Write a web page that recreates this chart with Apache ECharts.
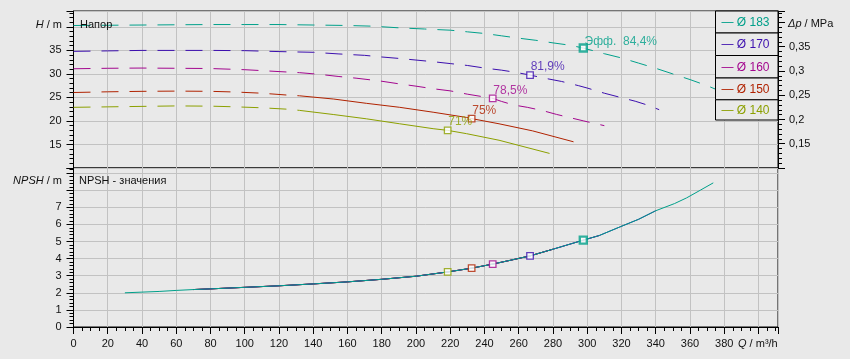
<!DOCTYPE html>
<html>
<head>
<meta charset="utf-8">
<script src="https://cdn.jsdelivr.net/npm/echarts@6/dist/echarts.min.js"></script>
<style>html,body{margin:0;padding:0;background:#e9e9e9;}#c{width:850px;height:359px;}</style>
</head>
<body>
<div id="c"></div>
<script>
// ---- data ----
const diameters = ['183', '170', '160', '150', '140'];
const colors = ['#00a08a', '#3c0fae', '#a3078e', '#b02200', '#8ca000'];

// head curves (Q m3/h, H m)
const q183 = [0, 20, 40, 60, 80, 100, 120, 140, 160, 175, 190, 205, 220, 230, 240, 250, 260, 270, 280, 290, 297.7, 310, 320, 330, 340, 350, 360, 370, 378];
const h183 = [40.3, 40.35, 40.4, 40.45, 40.5, 40.5, 40.5, 40.4, 40.3, 40.15, 39.8, 39.55, 39.3, 38.95, 38.6, 38.1, 37.6, 37.15, 36.6, 36.1, 35.5, 34.3, 33.4, 32.3, 31.2, 30.0, 28.8, 27.5, 26.3];
const q170 = [0, 20, 40, 60, 80, 100, 120, 140, 155, 170, 180, 190, 200, 210, 220, 230, 240, 250, 258, 266.6, 275, 285, 295, 300, 310, 320, 328, 335, 342];
const h170 = [34.8, 34.9, 35.0, 35.0, 35.0, 34.95, 34.75, 34.6, 34.25, 33.95, 33.6, 33.3, 32.95, 32.6, 32.2, 31.8, 31.25, 30.8, 30.35, 29.76, 29.1, 28.4, 27.5, 27.0, 25.9, 24.95, 24.2, 23.4, 22.4];
const q160 = [0, 20, 40, 60, 80, 100, 120, 132, 144, 155, 165, 179, 190, 200, 210, 220, 230, 240, 244.8, 250, 257, 265, 274, 282, 290, 298, 310];
const h160 = [31.1, 31.2, 31.25, 31.2, 31.15, 30.9, 30.5, 30.27, 29.9, 29.45, 29.1, 28.5, 27.9, 27.4, 26.85, 26.4, 25.7, 25.1, 24.8, 24.15, 23.4, 22.9, 22.2, 21.4, 20.7, 20.0, 19.0];
const q150 = [0, 20, 40, 60, 80, 95, 110, 125, 132, 152, 171, 190.5, 210, 229.5, 232.5, 248.5, 268, 292];
const h150 = [26.05, 26.2, 26.3, 26.35, 26.3, 26.15, 25.9, 25.5, 25.35, 24.66, 23.75, 22.9, 21.86, 20.75, 20.5, 19.4, 17.9, 15.57];
const q140 = [0, 20, 40, 60, 80, 95, 110, 125, 132, 152, 171, 190.5, 210, 218.5, 229.5, 248.5, 278];
const h140 = [22.9, 23.0, 23.1, 23.2, 23.15, 23.0, 22.8, 22.5, 22.25, 21.36, 20.46, 19.4, 18.36, 18.0, 17.3, 15.9, 13.1];
const headQ = [q183, q170, q160, q150, q140];
const headH = [h183, h170, h160, h150, h140];
const dashUntil = [1000, 1000, 1000, 132, 132];

// NPSH curve (shared by all impellers)
const npshQ = [30, 40, 50, 60, 70, 80, 100, 120, 140, 160, 180, 200, 218.5, 232.5, 244.8, 255, 266.6, 280, 297.7, 307, 319, 330, 340, 351, 358, 366, 373.6];
const npshV = [2.0, 2.04, 2.08, 2.14, 2.19, 2.23, 2.32, 2.41, 2.52, 2.64, 2.79, 2.97, 3.22, 3.44, 3.68, 3.9, 4.16, 4.55, 5.08, 5.35, 5.85, 6.3, 6.8, 7.22, 7.55, 8.0, 8.43];
const npshRange = [[30, 374], [70, 342], [70, 310], [70, 292], [70, 280]];

// best efficiency points
const effQ = [297.7, 266.6, 244.8, 232.5, 218.5];
const effH = [35.5, 29.76, 24.8, 20.5, 18.0];
const effNPSH = [5.08, 4.16, 3.68, 3.44, 3.22];
const effLabel = ['Эфф.  84,4%', '81,9%', '78,5%', '75%', '71%'];

// ---- chart ----
const FONT = "'Liberation Sans', Arial, sans-serif";
const FS = 11;
const chart = echarts.init(document.getElementById('c'), null, {renderer: 'canvas'});
const GL = 73.5, GR = 72, T0 = 11, B0 = 168, B1 = 327;
const gridColor = '#c2c2c2';

const series = [];
const order = [4, 3, 2, 1, 0];
order.forEach(i => {
  const pts = headQ[i].map((q, k) => [q, headH[i][k]]);
  const dashed = pts.filter(p => p[0] <= dashUntil[i]);
  const solid = pts.filter(p => p[0] >= dashUntil[i]);
  series.push({type: 'line', xAxisIndex: 0, yAxisIndex: 0, data: dashed, showSymbol: false, symbol: 'none',
    lineStyle: {color: colors[i], width: 1, type: [17, 11]}, silent: true, z: 3});
  if (solid.length > 1) series.push({type: 'line', xAxisIndex: 0, yAxisIndex: 0, data: solid, symbol: 'none',
    lineStyle: {color: colors[i], width: 1}, silent: true, z: 3});
  const np = npshQ.map((q, k) => [q, npshV[k]]).filter(p => p[0] >= npshRange[i][0] && p[0] <= npshRange[i][1]);
  series.push({type: 'line', xAxisIndex: 1, yAxisIndex: 2, data: np, symbol: 'none',
    lineStyle: {color: colors[i], width: 1}, silent: true, z: 3});
});
order.forEach(i => {
  const big = i === 0;
  const lbl = {show: true, formatter: effLabel[i], color: colors[i], fontFamily: FONT, fontSize: FS + 1,
    position: big ? [6, -1.5] : [4.5, [-4.5, -4.5, -3.5, -4.5, -4.5][i]], align: 'left', verticalAlign: 'middle'};
  const mk = {symbol: 'rect', symbolSize: big ? 7 : 6.5,
    itemStyle: {color: '#ffffff', borderColor: colors[i], borderWidth: big ? 2.4 : 1.3}};
  series.push(Object.assign({type: 'scatter', xAxisIndex: 0, yAxisIndex: 0, data: [[effQ[i], effH[i]]], label: lbl, z: 5, silent: true}, mk));
  series.push(Object.assign({type: 'scatter', xAxisIndex: 1, yAxisIndex: 2, data: [[effQ[i], effNPSH[i]]], z: 5, silent: true}, mk));
});

const tickStyle = {color: '#000', width: 1};
const labelStyle = {color: '#111', fontFamily: FONT, fontSize: FS};

// legend via graphics
const graphics = [];
const LX = 715.5, LW = 62.5, LT = 11, LH = [22, 22.5, 22.5, 21.8, 20.2];
let ly = LT;
diameters.forEach((d, i) => {
  graphics.push({type: 'rect', shape: {x: LX, y: ly, width: LW, height: LH[i]},
    style: {fill: '#e9e9e9', stroke: '#000', lineWidth: 1}, z: 10});
  graphics.push({type: 'text', x: LX + 6, y: ly + LH[i] / 2 + 0.5,
    style: {text: '— Ø ' + d, fill: colors[i], font: (FS + 1) + 'px ' + FONT, textVerticalAlign: 'middle'}, z: 11});
  ly += LH[i];
});
const titleTxt = (x, y, text, align) => ({type: 'text', x: x, y: y, z: 11,
  style: {text: text, font: FS + 'px ' + FONT, fill: '#111', textAlign: align, textVerticalAlign: 'middle',
    rich: {i: {fontStyle: 'italic', fontFamily: FONT, fontSize: FS, fill: '#111'}, n: {fontFamily: FONT, fontSize: FS, fill: '#111'}}}});
graphics.push(titleTxt(62, 25, '{i|H}{n| / m}', 'right'));
graphics.push(titleTxt(62, 181, '{i|NPSH}{n| / m}', 'right'));
graphics.push(titleTxt(788, 24, '{i|Δp}{n| / MPa}', 'left'));
graphics.push(titleTxt(738, 344, '{i|Q}{n| / m³/h}', 'left'));
graphics.push(titleTxt(80, 25, 'Напор', 'left'));
graphics.push(titleTxt(79, 181, 'NPSH - значения', 'left'));

const xMax = 411.4;
chart.setOption({
  animation: false,
  backgroundColor: '#e9e9e9',
  grid: [
    {left: GL, right: GR, top: T0, height: B0 - T0, show: true, borderColor: '#000', borderWidth: 1, backgroundColor: 'transparent'},
    {left: GL, right: GR, top: B0, height: B1 - B0, show: true, borderColor: '#000', borderWidth: 1, backgroundColor: 'transparent'}
  ],
  xAxis: [
    {type: 'value', gridIndex: 0, min: 0, max: xMax, interval: 20, axisLine: {show: false}, axisTick: {show: false},
      axisLabel: {show: false}, splitLine: {show: true, lineStyle: {color: gridColor, width: 1}}},
    {type: 'value', gridIndex: 1, min: 0, max: xMax, interval: 20,
      axisLine: {show: true, onZero: false, lineStyle: {color: '#000'}},
      axisTick: {show: true, length: 7, lineStyle: tickStyle},
      minorTick: {show: true, splitNumber: 4, length: 4, lineStyle: tickStyle},
      axisLabel: Object.assign({margin: 11, formatter: v => (v <= 380.5 ? String(Math.round(v)) : ''), showMaxLabel: false}, labelStyle),
      splitLine: {show: true, lineStyle: {color: gridColor, width: 1}}}
  ],
  yAxis: [
    {type: 'value', gridIndex: 0, position: 'left', min: 10, max: 43.38, interval: 5,
      axisLine: {show: true, onZero: false, lineStyle: {color: '#000'}},
      axisTick: {show: true, length: 7, lineStyle: tickStyle},
      minorTick: {show: true, splitNumber: 5, length: 4, lineStyle: tickStyle},
      axisLabel: Object.assign({margin: 12, formatter: v => (v > 12 && v < 37 ? String(Math.round(v)) : '')}, labelStyle),
      splitLine: {show: true, lineStyle: {color: gridColor, width: 1}}},
    {type: 'value', gridIndex: 0, position: 'right', min: 0.1, max: 0.4237, interval: 0.05,
      axisLine: {show: true, onZero: false, lineStyle: {color: '#000'}},
      axisTick: {show: true, length: 7, lineStyle: tickStyle},
      minorTick: {show: true, splitNumber: 5, length: 4, lineStyle: tickStyle},
      axisLabel: Object.assign({margin: 11, formatter: v => (v > 0.12 && v < 0.37 ? v.toFixed(2).replace(/0$/, '').replace('.', ',') : '')}, labelStyle),
      splitLine: {show: false}},
    {type: 'value', gridIndex: 1, position: 'left', min: 0, max: 9.3, interval: 1,
      axisLine: {show: true, onZero: false, lineStyle: {color: '#000'}},
      axisTick: {show: true, length: 7, lineStyle: tickStyle},
      minorTick: {show: true, splitNumber: 5, length: 4, lineStyle: tickStyle},
      axisLabel: Object.assign({margin: 12, formatter: v => (v < 7.5 ? String(Math.round(v)) : '')}, labelStyle),
      splitLine: {show: true, lineStyle: {color: gridColor, width: 1}}}
  ],
  series: series,
  graphic: graphics
});
</script>
</body>
</html>
